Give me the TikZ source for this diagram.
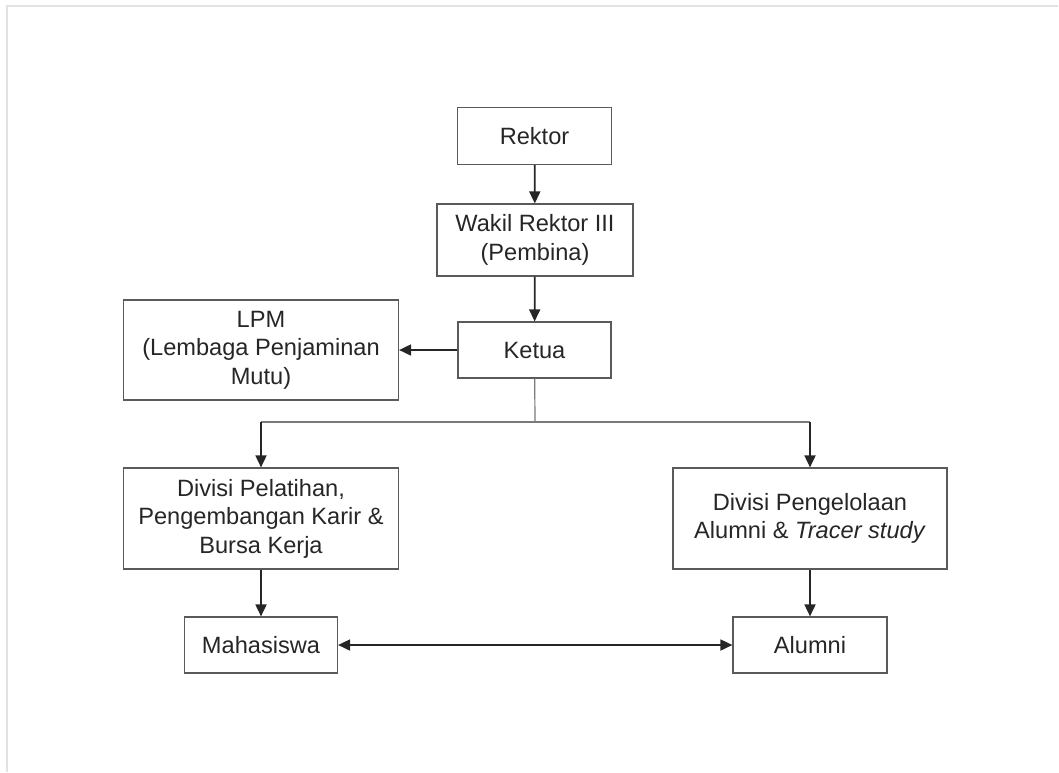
\documentclass[tikz,border=0pt]{standalone}
\usepackage{fontspec}
\setmainfont{Liberation Sans}
\usetikzlibrary{arrows.meta}

\definecolor{boxgray}{HTML}{5A5A5A}
\definecolor{linegray}{HTML}{7A7A7A}
\definecolor{framegray}{HTML}{E2E2E2}
\definecolor{txtgray}{HTML}{262626}

\tikzset{
  orgbox/.style={draw=boxgray, line width=0.6pt, align=center, inner sep=0pt,
    text=txtgray, font=\fontsize{11.8}{14.2}\selectfont},
  tip/.style={-{Triangle[length=6pt,width=5.5pt]}, draw=txtgray, fill=txtgray, line width=0.9pt},
  tips/.style={{Triangle[length=6pt,width=5.5pt]}-{Triangle[length=6pt,width=5.5pt]}, draw=txtgray, fill=txtgray, line width=0.9pt},
  split/.style={draw=linegray, line width=0.6pt}
}

\begin{document}
\begin{tikzpicture}[x=0.5pt,y=-0.5pt]
        \useasboundingbox (0,0) rectangle (1059,772);
        \draw[framegray, line width=0.8pt] (7,772) -- (7,6) -- (1058,6);

        \begin{scope}[every node/.style={orgbox}]
          \node[minimum width=77pt,  minimum height=28.5pt] (rektor)  at (534.5,136) {Rektor};
          \node[minimum width=98pt,  minimum height=36pt]   (warek)   at (535,240)   {Wakil Rektor III\\(Pembina)};
          \node[minimum width=76.5pt,minimum height=28pt]   (ketua)   at (534.5,350) {Ketua};
          \node[minimum width=137.5pt,minimum height=50pt]  (lpm)     at (261,350)   {LPM\\(Lembaga Penjaminan\\Mutu)};
          \node[minimum width=137.5pt,minimum height=50.5pt](divpel)  at (261,518.5) {Divisi Pelatihan,\\Pengembangan Karir \&\\Bursa Kerja};
          \node[minimum width=137pt, minimum height=50.5pt] (divalum) at (810,518.5) {Divisi Pengelolaan\\Alumni \& \textit{Tracer study}};
          \node[minimum width=76.5pt,minimum height=28pt]   (mhs)     at (261,645)   {Mahasiswa};
          \node[minimum width=77pt,  minimum height=28pt]   (alumni)  at (810,645)   {Alumni};
        \end{scope}

        \coordinate (jm) at (535,422);
        \coordinate (jl) at (261,422);
        \coordinate (jr) at (810,422);

        \path[tip] (rektor) -- (warek);
        \path[tip] (warek) -- (ketua);
        \path[tip] (ketua) -- (lpm);
        \path[split] (ketua) -- (jm);
        \path[split] (jl) -- (jr);
        \path[tip] (jl) -- (divpel);
        \path[tip] (jr) -- (divalum);
        \path[tip] (divpel) -- (mhs);
        \path[tip] (divalum) -- (alumni);
        \path[tips] (mhs) -- (alumni);

      \end{tikzpicture}
\end{document}
